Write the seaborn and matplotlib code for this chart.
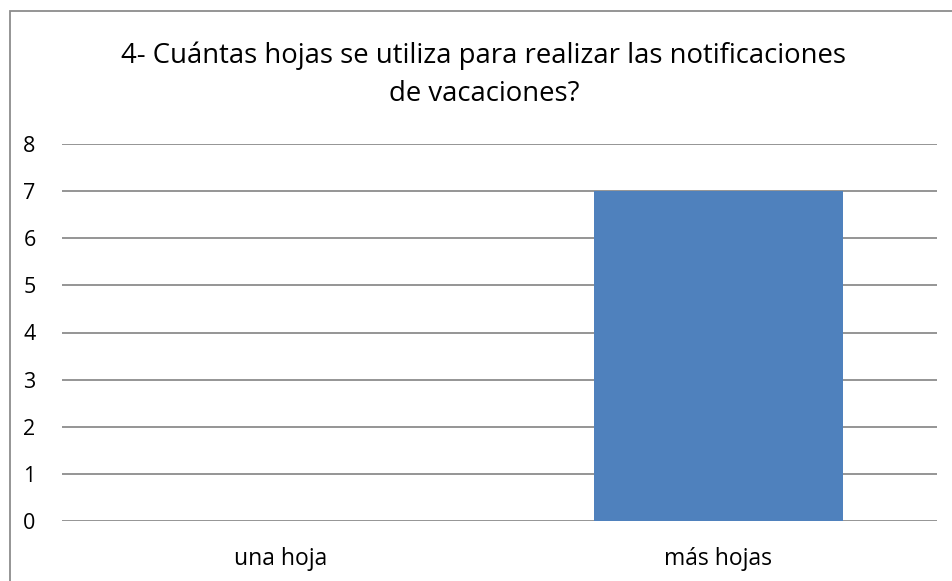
import matplotlib
matplotlib.use("Agg")
import matplotlib.pyplot as plt
import seaborn as sns
import pandas as pd
from matplotlib.patches import Rectangle

# datos de la pregunta 4
categorias = ["una hoja", "más hojas"]
valores = [0, 7]
titulo = ["4- Cuántas hojas se utiliza para realizar las notificaciones",
          "de vacaciones?"]

df = pd.DataFrame({"categoria": categorias, "valor": valores})

sns.set_style("white")
plt.rcParams['font.family'] = ['Open Sans', 'DejaVu Sans']

W, H = 953, 581
fig = plt.figure(figsize=(W / 100, H / 100), dpi=100)
fig.patch.set_facecolor('white')

# area de trazado en pixeles: x 62-937, y 144-521
ax = fig.add_axes([62 / W, 1 - 521 / H, (937 - 62) / W, (521 - 144) / H])

sns.barplot(data=df, x="categoria", y="valor", color="#4F81BD", saturation=1,
            width=0.57, linewidth=0, ax=ax, zorder=3)

ax.set_ylim(0, 8)
ax.set_xlim(-0.5, 1.5)
ax.set_yticks(range(0, 9))
ax.yaxis.grid(True, color="#8C8C8C", linewidth=1.3, zorder=0)
ax.set_axisbelow(True)
for s in ax.spines.values():
    s.set_visible(False)
ax.tick_params(axis='y', length=0, labelsize=15.5, colors='black', pad=19)
ax.tick_params(axis='x', length=0, labelsize=16.5, colors='black', pad=19)
ax.set_xlabel("")
ax.set_ylabel("")

# titulo en dos lineas (posicion de la linea base)
fig.text(484 / W, 1 - 63 / H, titulo[0], ha='center', va='baseline',
         fontsize=19.8, color='black')
fig.text(484 / W, 1 - 101 / H, titulo[1], ha='center', va='baseline',
         fontsize=19.8, color='black')

# borde del grafico (solo se ve arriba y a la izquierda)
fig.patches.append(Rectangle((10 / W, -0.1), 1.2, 1 - 11 / H + 0.1,
                             transform=fig.transFigure, fill=False,
                             edgecolor="#8C8C8C", linewidth=1.3))

fig.savefig("out.png", dpi=100, facecolor='white')
